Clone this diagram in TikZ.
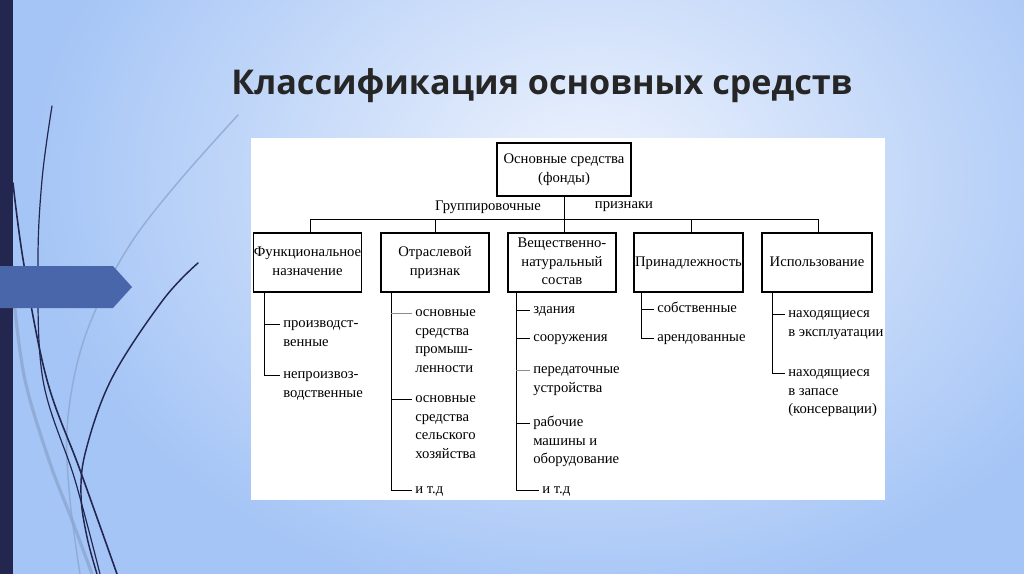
\documentclass[tikz,border=0pt]{standalone}
\usepackage{fontspec}
\setmainfont{Liberation Serif}
\newfontfamily\titlefont{Open Sans}
\usetikzlibrary{calc}
\definecolor{bgout}{HTML}{A5C5F6}
\definecolor{bgin}{HTML}{EEF3FD}
\definecolor{navy}{HTML}{232750}
\definecolor{arrowblue}{HTML}{4866A9}
\definecolor{lightcurve}{HTML}{8CA6D0}
\definecolor{titlecol}{HTML}{262626}
\tikzset{
  ln/.style={draw=black, line width=0.75pt},
  lngray/.style={draw=black!45, line width=0.6pt},
  box/.style={draw=black, line width=0.9pt, fill=white, inner sep=0pt, align=center,
    font=\fontsize{11}{14}\selectfont, minimum height=44.25pt},
  item/.style={inner sep=0pt, align=left, anchor=north west, font=\fontsize{11}{14}\selectfont},
  lbl/.style={inner sep=0pt, font=\fontsize{11}{14}\selectfont},
  dcurve/.style={draw=navy, line width=1.2pt, line cap=round},
  lcurve/.style={draw=lightcurve, line cap=round, opacity=0.8},
}
\begin{document}
\begin{tikzpicture}[x=0.75pt,y=-0.75pt]
\useasboundingbox (0,0) rectangle (1024,574);
% background
\fill[bgout] (0,0) rectangle (1024,574);
\begin{scope}
\clip (0,0) rectangle (1024,574);
\shade[inner color=bgin, outer color=bgout] (590,180) ellipse [x radius=560, y radius=430];
\end{scope}
% left decoration
\fill[navy] (0,0) rectangle (13,574);
\draw[lcurve, line width=2.4pt] plot[smooth, tension=0.6] coordinates {(14,300) (25,380) (50,463) (72,520) (92,574)};
\draw[lcurve, line width=1.1pt] plot[smooth, tension=0.6] coordinates {(238,115) (180,180) (133,240) (100,300) (78,360) (67,430) (70,500) (80,574)};
\draw[dcurve, line width=0.9pt] plot[smooth, tension=0.6] coordinates {(52,106) (42,180) (38,265) (43,380) (75,480) (100,574)};
\draw[dcurve, line width=1.2pt] plot[smooth, tension=0.6] coordinates {(13,183) (24,265) (47,380) (80,470) (117,574)};
\draw[dcurve, line width=1.1pt] plot[smooth, tension=0.6] coordinates {(198,263) (163,300) (112,378) (86,450) (81,495) (87,537) (97,574)};
\fill[arrowblue] (0,266) -- (113,266) -- (132,287) -- (113,308) -- (0,308) -- cycle;
% title
\node[font=\titlefont\bfseries\fontsize{25.6}{30}\selectfont, text=titlecol, inner sep=0pt] (title) at (542,86) {Классификация основных средств};
% white panel
\fill[white] (251,138) rectangle (885,500);
% boxes
\node[box, minimum width=100.5pt, minimum height=39.75pt] (top) at (564,169.5) {\strut Основные средства\\\strut(фонды)};
\node[box, minimum width=80.25pt] (b1) at (307.5,262.5) {\strut Функциональное\\\strut назначение};
\node[box, minimum width=81pt] (b2) at (435,262.5) {\strut Отраслевой\\\strut признак};
\node[box, minimum width=81pt] (b3) at (562,262.5) {\strut Вещественно-\\\strut натуральный\\\strut состав};
\node[box, minimum width=81.75pt] (b4) at (688.5,262.5) {\strut Принадлежность};
\node[box, minimum width=82.5pt] (b5) at (817,262.5) {\strut Использование};
% grouping line
\coordinate (hl) at (0,219);
\node[lbl] (g1) at (488,207) {Группировочные};
\node[lbl] (g2) at (624,207) {признаки};
\draw[ln] (top.south) -- (top.south |- b3.north);
\draw[ln] ([xshift=2pt]b1.north) |- ([xshift=1pt]b5.north |- hl) -- ([xshift=1pt]b5.north);
\draw[ln] (b2.north) -- (b2.north |- hl);
\draw[ln] ([xshift=2.5pt]b4.north) -- ([xshift=2.5pt]b4.north |- hl);
% column items
\node[item] (i11) at (283,314.3) {\strut производст-\\\strut венные};
\node[item] (i12) at (283,365.3) {\strut непроизвоз-\\\strut водственные};
\node[item] (i21) at (415,303.3) {\strut основные\\\strut средства\\\strut промыш-\\\strut ленности};
\node[item] (i22) at (415,389.3) {\strut основные\\\strut средства\\\strut сельского\\\strut хозяйства};
\node[item] (i23) at (415,480.3) {\strut и т.д};
\node[item] (i31) at (533,300.3) {\strut здания};
\node[item] (i32) at (533,328.3) {\strut сооружения};
\node[item] (i33) at (533,360.3) {\strut передаточные\\\strut устройства};
\node[item] (i34) at (533,413.3) {\strut рабочие\\\strut машины и\\\strut оборудование};
\node[item] (i35) at (542,480.3) {\strut и т.д};
\node[item] (i41) at (657,299.3) {\strut собственные};
\node[item] (i42) at (657,328.3) {\strut арендованные};
\node[item] (i51) at (788,304.3) {\strut находящиеся\\\strut в эксплуатации};
\node[item] (i52) at (788,363.3) {\strut находящиеся\\\strut в запасе\\\strut (консервации)};
% tick targets
\foreach \n in {11,12,21,22,23,31,32,33,34,35,41,42,51,52}
  \coordinate (t\n) at ([xshift=-2pt,yshift=-7.3pt]i\n.north west);
\coordinate (v1) at ($(b1.south west)+(11,0)$);
\coordinate (v2) at ($(b2.south west)+(11,0)$);
\coordinate (v3) at ($(b3.south west)+(9,0)$);
\coordinate (v4) at ($(b4.south west)+(8,0)$);
\coordinate (v5) at ($(b5.south west)+(11,0)$);
\draw[ln] (v1) |- (t12);
\draw[ln] (v1 |- t11) -- (t11);
\draw[ln] (v2) |- (t23);
\draw[lngray] (v2 |- t21) -- (t21);
\draw[ln] (v2 |- t22) -- (t22);
\draw[ln] (v3) |- (t35);
\draw[ln] (v3 |- t31) -- (t31);
\draw[ln] (v3 |- t32) -- (t32);
\draw[lngray] (v3 |- t33) -- (t33);
\draw[ln] (v3 |- t34) -- (t34);
\draw[ln] (v4) |- (t42);
\draw[ln] (v4 |- t41) -- (t41);
\draw[ln] (v5) |- (t52);
\draw[ln] (v5 |- t51) -- (t51);
\end{tikzpicture}
\end{document}
